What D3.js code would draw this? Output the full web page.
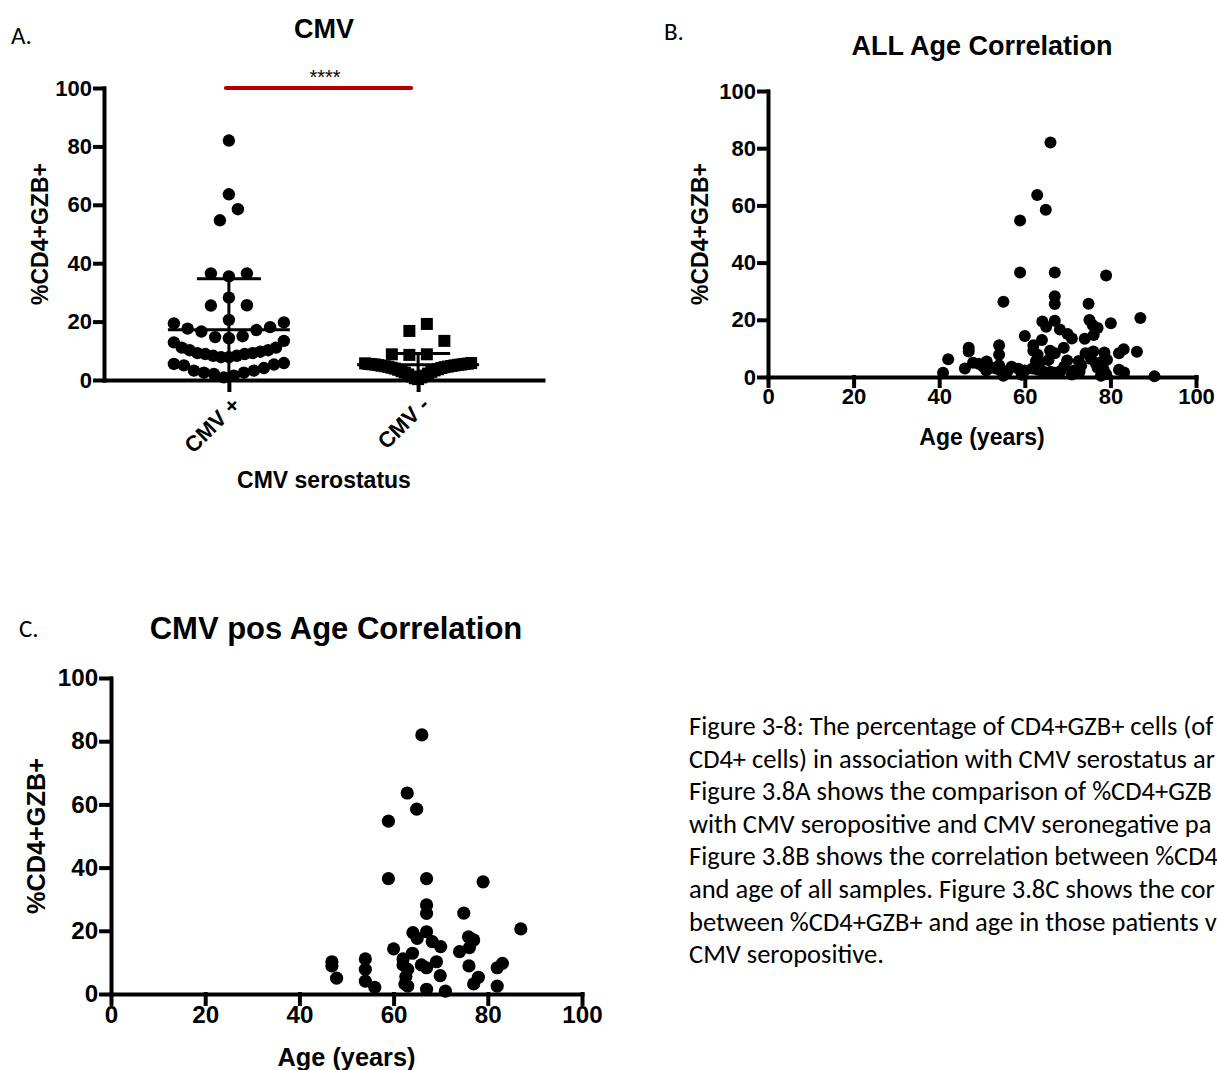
<!DOCTYPE html>
<html>
<head>
<meta charset="utf-8">
<script src="https://cdn.jsdelivr.net/npm/d3@7"></script>
<style>
  body { margin: 0; background: #fff; }
  text { font-family: "Liberation Sans", Arial, sans-serif; }
  .bold { font-weight: bold; }
  .cap { font-family: Carlito, Calibri, Lato, "Open Sans", sans-serif; }
</style>
</head>
<body>
<div id="chart"></div>
<script>
// ---- data ----
const groups = ["CMV +", "CMV -"];
const yTicks = [0, 20, 40, 60, 80, 100];
const xTicks = [0, 20, 40, 60, 80, 100];

// CMV seropositive patients (panel A left group, panel C)
const posAge = [66, 62.9, 64.9, 58.9, 58.9, 67, 79, 67, 67, 74.9, 87, 64.1, 65, 67, 68.2, 70,
  75.9, 77, 76.1, 74, 60, 64, 62, 62, 63, 65.9, 67, 69.1, 76, 69.9, 62.6, 62.4, 63, 67, 71,
  78, 77, 82, 83.1, 82, 46.9, 46.9, 47.9, 54, 54, 54, 56];
const posPct = [82, 63.6, 58.5, 54.7, 36.5, 36.5, 35.5, 28.2, 25.5, 25.6, 20.6, 19.4, 17.6, 19.7, 16.6, 15,
  18.1, 17.1, 14.7, 13.4, 14.3, 12.9, 11.1, 9.2, 7.8, 9.2, 8.3, 10.2, 8.9, 5.8, 5.5, 3.2, 2.5, 1.5, 0.9,
  5.3, 3.2, 8.3, 9.7, 2.5, 10.2, 8.9, 5.0, 11.1, 7.8, 4.1, 2.1];

// CMV seronegative patients (panel A right group)
const negPct = [19.2, 16.8, 13.4, 8.8, 8.8, 8.6,
  5.8, 5.7, 5.6, 5.5, 5.5, 5.4, 5.3, 5.3, 5.2, 5.1, 5.0, 4.9, 4.8, 4.7, 4.6, 4.5, 4.4,
  4.2, 4.1, 3.9, 3.7, 3.5, 3.3, 3.0, 2.8, 2.5, 2.2, 1.9, 1.5, 1.2, 0.9, 0.6, 0.3];

// remaining samples of panel B (all ages)
const otherAge = [55, 71, 75.1, 80.1, 65.5, 71.5, 72.8, 68.3, 74.2, 75.5, 78.6, 79.2, 78.4, 79, 86.2,
  83.2, 90.3, 42.1, 40.9, 46, 51.1, 52.3, 50.3, 51, 55, 56.9, 58.5, 60, 61.8, 55, 59.3, 49.2,
  53.6, 64.2, 66, 69.2, 76.6, 73.2, 63.4, 72.6, 77.8];
const otherPct = [26.3, 13.5, 19.9, 18.8, 5.9, 2.3, 1.8, 2.0, 8.3, 6.3, 8.6, 6.0, 2.6, 1.0, 8.8,
  1.6, 0.3, 6.2, 1.5, 3.0, 5.4, 3.2, 3.6, 2.3, 1.3, 3.6, 2.9, 2.3, 3.0, 0.4, 0.8, 4.6,
  2.8, 2.0, 1.8, 3.6, 4.8, 4.0, 5.0, 5.6, 0.4];

const captionLines = [
  "Figure 3-8: The percentage of CD4+GZB+ cells (of",
  "CD4+ cells) in association with CMV serostatus ar",
  "Figure 3.8A shows the comparison of %CD4+GZB",
  "with CMV seropositive and CMV seronegative pa",
  "Figure 3.8B shows the correlation between %CD4",
  "and age of all samples. Figure 3.8C shows the cor",
  "between %CD4+GZB+ and age in those patients v",
  "CMV seropositive."
];

const W = 1217, H = 1070;
const svg = d3.select("#chart").append("svg")
  .attr("width", W).attr("height", H);

// style an axis GraphPad-like: thick black lines, bold labels
function styleAxis(g, fs) {
  g.selectAll("path, line").attr("stroke", "#000").attr("stroke-width", 4)
    .attr("stroke-linecap", "square");
  g.selectAll("text").attr("class", "bold").attr("font-size", fs).attr("fill", "#000");
}

// GraphPad style scatter-dot layout: bin by value, spread each bin sideways
function swarm(vals, maxStep, maxHalf) {
  const idx = d3.range(vals.length).sort((a, b) => vals[a] - vals[b]);
  const off = new Array(vals.length).fill(0);
  const bins = [];
  let cur = [];
  idx.forEach(i => {
    if (cur.length && vals[i] - vals[cur[0]] > 5.7) { bins.push(cur); cur = []; }
    cur.push(i);
  });
  if (cur.length) bins.push(cur);
  bins.forEach(b => {
    const n = b.length;
    const step = n > 1 ? Math.min(maxStep, 2 * maxHalf / (n - 1)) : 0;
    b.forEach((i, k) => {
      let pos;
      if (n % 2) pos = k === 0 ? 0 : (k % 2 ? -1 : 1) * Math.ceil(k / 2) * step;
      else pos = (k % 2 ? 1 : -1) * (Math.floor(k / 2) + 0.5) * step;
      off[i] = pos;
    });
  });
  return off;
}

function panelLetter(txt, x, y) {
  svg.append("text").attr("class", "cap").attr("x", x).attr("y", y)
    .attr("font-size", 25).text(txt);
}

function yLabel(x, yMid, fs) {
  svg.append("text").attr("class", "bold").attr("font-size", fs)
    .attr("text-anchor", "middle")
    .attr("transform", `translate(${x},${yMid}) rotate(-90)`)
    .text("%CD4+GZB+");
}

// ---------- Panel A ----------
{
  const x = d3.scalePoint().domain(groups).range([104, 543]).padding(0.66);
  const y = d3.scaleLinear().domain([0, 100]).range([380, 88]);
  const g = svg.append("g");

  const ya = g.append("g").attr("transform", "translate(104,0)")
    .call(d3.axisLeft(y).tickValues(yTicks).tickSize(9).tickSizeOuter(0).tickPadding(3));
  styleAxis(ya, 22);

  const xa = g.append("g").attr("transform", "translate(0,380)")
    .call(d3.axisBottom(x).tickSize(10).tickSizeOuter(0));
  styleAxis(xa, 22);
  xa.selectAll("text").attr("text-anchor", "end")
    .attr("transform", "translate(-8,0) rotate(-45)").attr("dx", "-0.2em").attr("dy", "0.9em");

  // mean and SD bars
  const sets = [posPct, negPct];
  sets.forEach((vals, gi) => {
    const cx = x(groups[gi]);
    const m = d3.mean(vals), sd = d3.deviation(vals);
    g.append("line").attr("x1", cx - 61).attr("x2", cx + 61)
      .attr("y1", y(m)).attr("y2", y(m)).attr("stroke", "#000").attr("stroke-width", 3);
    g.append("line").attr("x1", cx - 32).attr("x2", cx + 32)
      .attr("y1", y(m + sd)).attr("y2", y(m + sd)).attr("stroke", "#000").attr("stroke-width", 3);
    g.append("line").attr("x1", cx).attr("x2", cx)
      .attr("y1", y(m + sd)).attr("y2", y(Math.max(0, m - sd))).attr("stroke", "#000").attr("stroke-width", 3);
  });

  const offPos = swarm(posPct, 18, 55);
  g.selectAll(".pos").data(posPct).enter().append("circle")
    .attr("cx", (d, i) => x(groups[0]) + offPos[i]).attr("cy", d => y(d))
    .attr("r", 6.2).attr("fill", "#000");

  const offNeg = swarm(negPct, 17.5, 53);
  g.selectAll(".neg").data(negPct).enter().append("rect")
    .attr("x", (d, i) => x(groups[1]) + offNeg[i] - 6).attr("y", d => y(d) - 6)
    .attr("width", 12).attr("height", 12).attr("fill", "#000");

  // significance bar
  g.append("line").attr("x1", x(groups[0]) - 3).attr("x2", x(groups[1]) - 7)
    .attr("y1", y(100)).attr("y2", y(100))
    .attr("stroke", "#b00000").attr("stroke-width", 4).attr("stroke-linecap", "round");
  g.append("text").attr("x", 325).attr("y", 84)
    .attr("text-anchor", "middle").attr("font-size", 20).text("****");

  svg.append("text").attr("class", "bold").attr("x", 324).attr("y", 38)
    .attr("text-anchor", "middle").attr("font-size", 27).text("CMV");
  svg.append("text").attr("class", "bold").attr("x", 324).attr("y", 488)
    .attr("text-anchor", "middle").attr("font-size", 23).text("CMV serostatus");
  yLabel(48, 234, 23);
  panelLetter("A.", 11, 44);
}

// ---------- scatter panels B and C ----------
function scatter(opt, ages, pcts) {
  const x = d3.scaleLinear().domain([0, 100]).range([opt.left, opt.right]);
  const y = d3.scaleLinear().domain([0, 100]).range([opt.bottom, opt.top]);
  const g = svg.append("g");
  const k = opt.k;

  const ya = g.append("g").attr("transform", `translate(${opt.left},0)`)
    .call(d3.axisLeft(y).tickValues(yTicks).tickSize(9 * k).tickSizeOuter(0).tickPadding(3));
  styleAxis(ya, 22 * k);
  const xa = g.append("g").attr("transform", `translate(0,${opt.bottom})`)
    .call(d3.axisBottom(x).tickValues(xTicks).tickSize(9 * k).tickSizeOuter(0).tickPadding(2));
  styleAxis(xa, 22 * k);

  g.selectAll(".dot").data(ages).enter().append("circle")
    .attr("cx", d => x(d)).attr("cy", (d, i) => y(pcts[i]))
    .attr("r", 6 * k).attr("fill", "#000");

  const mid = (opt.left + opt.right) / 2;
  svg.append("text").attr("class", "bold").attr("x", opt.titleX).attr("y", opt.titleY)
    .attr("text-anchor", "middle").attr("font-size", opt.titleSize).text(opt.title);
  svg.append("text").attr("class", "bold").attr("x", mid).attr("y", opt.xTitleY)
    .attr("text-anchor", "middle").attr("font-size", 23 * k).text("Age (years)");
  yLabel(opt.left - 60 * k, (opt.top + opt.bottom) / 2, 23 * k);
}

scatter({ left: 768, right: 1196, top: 91, bottom: 377, k: 1,
  title: "ALL Age Correlation", titleSize: 27, titleX: 982, titleY: 55, xTitleY: 445 },
  posAge.concat(otherAge), posPct.concat(otherPct));
panelLetter("B.", 664, 40);

scatter({ left: 111, right: 582, top: 678, bottom: 994, k: 1.1,
  title: "CMV pos Age Correlation", titleSize: 31, titleX: 336, titleY: 639, xTitleY: 1066 },
  posAge, posPct);
panelLetter("C.", 19, 637);

// ---------- caption ----------
svg.append("g").selectAll("text").data(captionLines).enter().append("text")
  .attr("class", "cap").attr("x", 689).attr("y", (d, i) => 735 + i * 32.6)
  .attr("font-size", 26.5).attr("fill", "#000").text(d => d);
</script>
</body>
</html>
